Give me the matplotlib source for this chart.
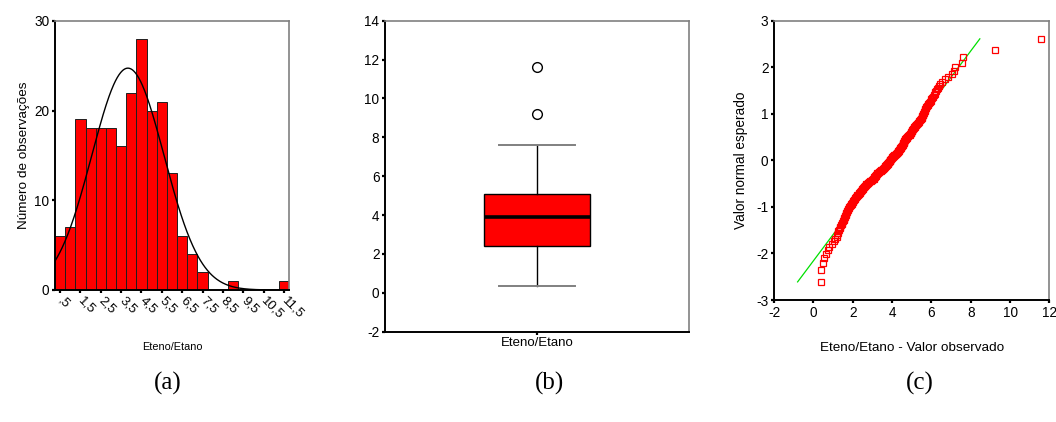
from statistics import NormalDist

import matplotlib
matplotlib.use("Agg")
import matplotlib.pyplot as plt
import numpy as np

# Eteno/Etano ratio, one value per observation (n = 220), sorted
eteno_etano = [
    0.37, 0.38, 0.51, 0.56, 0.66, 0.72,
    0.81, 0.93, 1.05, 1.12, 1.19, 1.21, 1.24,
    1.27, 1.30, 1.33, 1.36, 1.40, 1.44, 1.48, 1.52, 1.54, 1.56,
    1.58, 1.60, 1.62, 1.64, 1.66, 1.68, 1.70, 1.72, 1.74,
    1.77, 1.80, 1.83, 1.86, 1.89, 1.92, 1.95, 1.98, 2.00, 2.03,
    2.06, 2.08, 2.10, 2.12, 2.15, 2.18, 2.21, 2.24,
    2.27, 2.30, 2.33, 2.36, 2.38, 2.40, 2.43, 2.46, 2.48, 2.50,
    2.52, 2.55, 2.58, 2.61, 2.64, 2.67, 2.70, 2.73,
    2.77, 2.80, 2.84, 2.88, 2.92, 2.96, 3.00, 3.04, 3.06, 3.08,
    3.10, 3.12, 3.14, 3.16, 3.18, 3.20, 3.22, 3.24,
    3.28, 3.32, 3.36, 3.40, 3.43, 3.46, 3.49, 3.52, 3.55, 3.58,
    3.61, 3.64, 3.66, 3.68, 3.71, 3.74,
    3.76, 3.78, 3.80, 3.82, 3.84, 3.86, 3.88, 3.89, 3.90, 3.92,
    3.94, 3.96, 3.98, 4.00, 4.03, 4.06, 4.09, 4.12, 4.15, 4.18,
    4.21, 4.24,
    4.26, 4.28, 4.30, 4.32, 4.34, 4.36, 4.38, 4.40, 4.42, 4.44,
    4.46, 4.48, 4.50, 4.52, 4.54, 4.56, 4.57, 4.58, 4.59, 4.60,
    4.62, 4.63, 4.65, 4.66, 4.68, 4.70, 4.72, 4.74,
    4.77, 4.80, 4.83, 4.86, 4.89, 4.92, 4.94, 4.96, 4.98, 5.00,
    5.02, 5.04, 5.06, 5.08, 5.10, 5.13, 5.16, 5.19, 5.21, 5.24,
    5.27, 5.30, 5.33, 5.36, 5.39, 5.42, 5.45, 5.48, 5.50, 5.52,
    5.54, 5.56, 5.58, 5.60, 5.62, 5.64, 5.66, 5.68, 5.70, 5.72, 5.74,
    5.77, 5.81, 5.85, 5.89, 5.93, 5.96, 6.00, 6.04, 6.08, 6.12,
    6.16, 6.20, 6.23,
    6.28, 6.33, 6.38, 6.45, 6.55, 6.68,
    6.85, 7.05, 7.14, 7.18,
    7.54, 7.59,
    9.22,
    11.60,
]

hist_ticks = [0.5, 1.5, 2.5, 3.5, 4.5, 5.5, 6.5, 7.5, 8.5, 9.5, 10.5, 11.5]
hist_tick_labels = [",5", "1,5", "2,5", "3,5", "4,5", "5,5", "6,5", "7,5",
                    "8,5", "9,5", "10,5", "11,5"]
bin_width = 0.5

RED = "#ff0000"
GREY = "#808080"
SANS = "Liberation Sans"
SERIF = "Liberation Serif"

plt.rcParams["font.family"] = SANS
plt.rcParams["font.size"] = 9.5
plt.rcParams["axes.unicode_minus"] = False

data = np.array(eteno_etano)
n = len(data)
mean = data.mean()
sd = data.std(ddof=1)


def style_frame(ax):
    ax.spines["left"].set_color("black")
    ax.spines["bottom"].set_color("black")
    ax.spines["left"].set_linewidth(1.4)
    ax.spines["bottom"].set_linewidth(1.4)
    ax.spines["top"].set_color(GREY)
    ax.spines["right"].set_color(GREY)
    ax.spines["top"].set_linewidth(1.2)
    ax.spines["right"].set_linewidth(1.2)
    ax.tick_params(direction="out", length=2.5, width=1.6, colors="black",
                   labelsize=9.8, pad=1.5)


fig = plt.figure(figsize=(10.56, 4.22), dpi=100)

# (a) histogram with fitted normal curve
ax1 = fig.add_axes([0.0521, 0.3128, 0.2216, 0.638])
edges = np.arange(0.25, 11.75 + bin_width / 2, bin_width)
ax1.hist(data, bins=edges, color=RED, edgecolor="#202020", linewidth=0.7)
xs = np.linspace(edges[0], edges[-1], 400)
pdf = np.exp(-0.5 * ((xs - mean) / sd) ** 2) / (sd * np.sqrt(2 * np.pi))
ax1.plot(xs, n * bin_width * pdf, color="black", linewidth=1.0)
ax1.set_xlim(edges[0], edges[-1])
ax1.set_ylim(0, 30)
ax1.set_yticks([0, 10, 20, 30])
ax1.set_xticks(hist_ticks)
style_frame(ax1)
ax1.set_xticklabels(hist_tick_labels, rotation=-45, ha="left", va="center",
                    rotation_mode="anchor", fontsize=9.5)
ax1.tick_params(axis="x", pad=4)
ax1.set_ylabel("Número de observações", fontsize=9.7, labelpad=3)
fig.text(172 / 1056, 1 - 347 / 422, "Eteno/Etano", fontsize=7.8,
         ha="center", va="center")

# (b) box plot
ax2 = fig.add_axes([0.3646, 0.214, 0.2879, 0.737])
ax2.boxplot([data], positions=[1], widths=0.35, capwidths=0.247,
            patch_artist=True,
            boxprops=dict(facecolor=RED, edgecolor="black", linewidth=1.0),
            medianprops=dict(color="black", linewidth=2.6),
            whiskerprops=dict(color="black", linewidth=1.0),
            capprops=dict(color=GREY, linewidth=1.4),
            flierprops=dict(marker="o", markerfacecolor="white",
                            markeredgecolor="black", markersize=7,
                            markeredgewidth=1.0))
ax2.set_xlim(0.5, 1.5)
ax2.set_ylim(-2, 14)
ax2.set_yticks(np.arange(-2, 15, 2))
ax2.set_xticks([1])
style_frame(ax2)
ax2.set_xticklabels(["Eteno/Etano"], fontsize=9.5)

# (c) normal Q-Q plot
ax3 = fig.add_axes([0.733, 0.289, 0.2607, 0.662])
ranks = np.arange(1, n + 1)
expected = np.array([NormalDist().inv_cdf(r / (n + 1)) for r in ranks])
ax3.plot([mean + sd * expected[0], mean + sd * expected[-1]],
         [expected[0], expected[-1]], color="#00e000", linewidth=0.9)
ax3.plot(np.sort(data), expected, linestyle="none", marker="s",
         markersize=4.0, markerfacecolor="none", markeredgecolor=RED,
         markeredgewidth=0.9)
ax3.set_xlim(-2, 12)
ax3.set_ylim(-3, 3)
ax3.set_xticks(np.arange(-2, 13, 2))
ax3.set_yticks(np.arange(-3, 4, 1))
style_frame(ax3)
ax3.set_ylabel("Valor normal esperado", fontsize=9.8, labelpad=6)
fig.text(912 / 1056, 1 - 348 / 422, "Eteno/Etano - Valor observado",
         fontsize=9.7, ha="center", va="center")

for x_px, tag in [(168, "(a)"), (549, "(b)"), (920, "(c)")]:
    fig.text(x_px / 1056, 1 - 383 / 422, tag, fontsize=18, family=SERIF,
             ha="center", va="center")

fig.savefig("out.png", dpi=100, facecolor="white")
